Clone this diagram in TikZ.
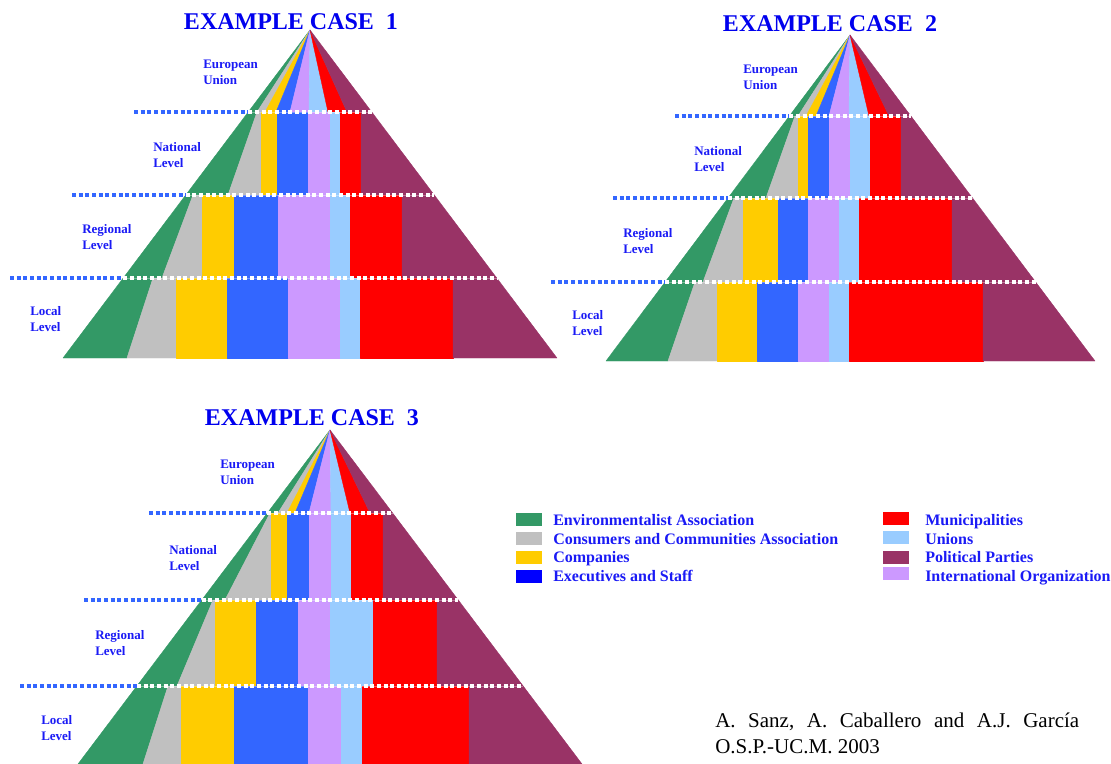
\documentclass[tikz,border=0pt]{standalone}
\usepackage{fontspec}
\setmainfont{Liberation Serif}

\definecolor{cGreen}{HTML}{339966}
\definecolor{cGray}{HTML}{C0C0C0}
\definecolor{cYellow}{HTML}{FFCC00}
\definecolor{cBlue}{HTML}{3366FF}
\definecolor{cPure}{HTML}{0000FF}
\definecolor{cPurple}{HTML}{CC99FF}
\definecolor{cLight}{HTML}{99CCFF}
\definecolor{cRed}{HTML}{FF0000}
\definecolor{cMaroon}{HTML}{993366}
\definecolor{cTitle}{HTML}{0000EE}
\definecolor{cLabel}{HTML}{1A1AF5}
\definecolor{cDot}{HTML}{3366FF}

\tikzset{
  seg/.style={fill=#1, draw=#1, line width=0.3pt, line join=round},
  dotblue/.style={draw=cDot, line width=2.9pt, dash pattern=on 3pt off 2pt},
  dotwhite/.style={draw=white, line width=2.9pt, dash pattern=on 3pt off 2pt},
  dotthread/.style={draw=white, line width=0.75pt, opacity=0.35},
  casetitle/.style={text=cTitle, font=\bfseries\fontsize{18pt}{20pt}\selectfont, inner sep=0pt},
  lvl/.style={text=cLabel, font=\bfseries\fontsize{9.75pt}{12pt}\selectfont, align=left, anchor=west, inner sep=0pt},
  legtext/.style={text=cLabel, font=\bfseries\fontsize{12pt}{14pt}\selectfont, anchor=base west, inner sep=0pt},
  citetext/.style={text=black, font=\fontsize{15.75pt}{19pt}\selectfont, anchor=base west, inner sep=0pt},
}

% pyramid geometry: apex (x,y), base left x, base right x, base y
\newcommand\PyrSet[5]{\def\pAx{#1}\def\pAy{#2}\def\pLx{#3}\def\pRx{#4}\def\pBy{#5}}
% left and right edge of the current pyramid at height #1
\newcommand\EdgeAt[1]{%
  \pgfmathsetmacro\pEl{\pAx+(\pLx-\pAx)/(\pBy-\pAy)*(#1-\pAy)}%
  \pgfmathsetmacro\pEr{\pAx+(\pRx-\pAx)/(\pBy-\pAy)*(#1-\pAy)}}

% top band: wedges from the apex down to height #1
\newcommand\Fan[2]{\EdgeAt{#1}\def\pYb{#1}\FanCols#2\relax}
\def\FanCols#1/#2/#3/#4/#5/#6/#7\relax{%
  \fill[seg=cGreen]  (\pAx,\pAy) -- (\pEl,\pYb) -- (#1,\pYb) -- cycle;
  \fill[seg=cGray]   (\pAx,\pAy) -- (#1,\pYb) -- (#2,\pYb) -- cycle;
  \fill[seg=cYellow] (\pAx,\pAy) -- (#2,\pYb) -- (#3,\pYb) -- cycle;
  \fill[seg=cBlue]   (\pAx,\pAy) -- (#3,\pYb) -- (#4,\pYb) -- cycle;
  \fill[seg=cPurple] (\pAx,\pAy) -- (#4,\pYb) -- (#5,\pYb) -- cycle;
  \fill[seg=cLight]  (\pAx,\pAy) -- (#5,\pYb) -- (#6,\pYb) -- cycle;
  \fill[seg=cRed]    (\pAx,\pAy) -- (#6,\pYb) -- (#7,\pYb) -- cycle;
  \fill[seg=cMaroon] (\pAx,\pAy) -- (#7,\pYb) -- (\pEr,\pYb) -- cycle;}

% lower band from #1 to #2; green/grey border from #3 (top) to #4 (bottom);
% #5 = the six vertical column borders
\newcommand\Band[5]{%
  \EdgeAt{#1}\let\pLt\pEl\let\pRt\pEr
  \EdgeAt{#2}\let\pLb\pEl\let\pRb\pEr
  \def\pYt{#1}\def\pYb{#2}\def\pGt{#3}\def\pGb{#4}%
  \BandCols#5\relax}
\def\BandCols#1/#2/#3/#4/#5/#6\relax{%
  \fill[seg=cGreen]  (\pLt,\pYt) -- (\pGt,\pYt) -- (\pGb,\pYb) -- (\pLb,\pYb) -- cycle;
  \fill[seg=cGray]   (\pGt,\pYt) -- (#1,\pYt) -- (#1,\pYb) -- (\pGb,\pYb) -- cycle;
  \fill[seg=cYellow] (#1,\pYt) rectangle (#2,\pYb);
  \fill[seg=cBlue]   (#2,\pYt) rectangle (#3,\pYb);
  \fill[seg=cPurple] (#3,\pYt) rectangle (#4,\pYb);
  \fill[seg=cLight]  (#4,\pYt) rectangle (#5,\pYb);
  \fill[seg=cRed]    (#5,\pYt) rectangle (#6,\pYb);
  \fill[seg=cMaroon] (#6,\pYt) -- (\pRt,\pYt) -- (\pRb,\pYb) -- (#6,\pYb) -- cycle;}

% dotted level line at height #1, starting at x = #2
\newcommand\Level[2]{%
  \EdgeAt{#1}%
  \draw[dotblue] (#2,#1) -- (\pEl,#1);
  \draw[dotthread] (\pEl,#1) -- (\pEr,#1);
  \draw[dotwhite] (\pEl,#1) -- (\pEr,#1);}

\begin{document}
\begin{tikzpicture}[x=0.75pt, y=-0.75pt]
\useasboundingbox (0,0) rectangle (1111,764);

% ---------------- case 1 ----------------
\PyrSet{310}{30}{63}{557}{358}
\Fan{112}{257/265/276/290/309/328/347}
\Band{112}{195}{257}{228}{261/277/308/330/340/361}
\Band{195}{278}{193}{162}{202/234/278/330/350/402}
\Band{278}{358}{153}{127}{176/227/288/340/360/453}
\Level{112}{134}
\Level{195}{72}
\Level{278}{10}
\node[casetitle] (title1) at (291,22) {EXAMPLE CASE~ 1};
\node[lvl] (eu1)  at (203,72)  {European\\Union};
\node[lvl] (nat1) at (153,155) {National\\Level};
\node[lvl] (reg1) at (82,237)  {Regional\\Level};
\node[lvl] (loc1) at (30,319)  {Local\\Level};

% ---------------- case 2 ----------------
\PyrSet{850}{35}{606}{1095}{361}
\Fan{116}{798/806/816/829/849/869/889}
\Band{116}{198}{795}{766}{798/808/829/850/870/901}
\Band{198}{282}{734}{703}{743/778/808/839/859/952}
\Band{282}{361}{695}{668}{717/757/798/829/849/983}
\Level{116}{675}
\Level{198}{613}
\Level{282}{551}
\node[casetitle] (title2) at (830,24) {EXAMPLE CASE~ 2};
\node[lvl] (eu2)  at (743,77)  {European\\Union};
\node[lvl] (nat2) at (694,159) {National\\Level};
\node[lvl] (reg2) at (623,241) {Regional\\Level};
\node[lvl] (loc2) at (572,323) {Local\\Level};

% ---------------- case 3 ----------------
\PyrSet{330}{430}{78}{582}{764}
\Fan{513}{278/287/295/309/331/350/370}
\Band{513}{600}{270}{225}{271/287/309/331/351/383}
\Band{600}{686}{213}{177}{215/256/298/330/373/437}
\Band{686}{764}{168}{143}{181/234/308/341/362/469}
\Level{513}{149}
\Level{600}{84}
\Level{686}{20}
\node[casetitle] (title3) at (312,418) {EXAMPLE CASE~ 3};
\node[lvl] (eu3)  at (220,472) {European\\Union};
\node[lvl] (nat3) at (169,558) {National\\Level};
\node[lvl] (reg3) at (95,643)  {Regional\\Level};
\node[lvl] (loc3) at (41,728)  {Local\\Level};

% ---------------- legend ----------------
\fill[cGreen]  (516,513) rectangle (542,526);
\fill[cGray]   (516,532) rectangle (542,545);
\fill[cYellow] (516,551) rectangle (542,564);
\fill[cPure]   (516,570) rectangle (542,583);
\node[legtext] (lg1) at (553,525) {Environmentalist Association};
\node[legtext] (lg2) at (553,544) {Consumers and Communities Association};
\node[legtext] (lg3) at (553,562) {Companies};
\node[legtext] (lg4) at (553,581) {Executives and Staff};

\fill[cRed]    (883,512) rectangle (909,525);
\fill[cLight]  (883,531) rectangle (909,544);
\fill[cMaroon] (883,551) rectangle (909,564);
\fill[cPurple] (883,567) rectangle (909,580);
\node[legtext] (lg5) at (925,525) {Municipalities};
\node[legtext] (lg6) at (925,544) {Unions};
\node[legtext] (lg7) at (925,562) {Political Parties};
\node[legtext] (lg8) at (925,581) {International Organization};

% ---------------- authors ----------------
\node[citetext] (cite1) at (715,727) {\hbox to 273pt{A.\hfill Sanz,\hfill A.\hfill Caballero\hfill and\hfill A.J.\hfill García}};
\node[citetext] (cite2) at (715,753) {O.S.P.-UC.M. 2003};
\end{tikzpicture}
\end{document}
